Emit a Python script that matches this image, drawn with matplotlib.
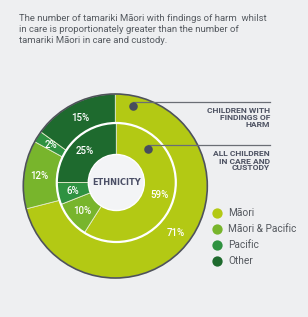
import matplotlib.pyplot as plt
from matplotlib.patches import Circle

# data
groups = ['Māori', 'Māori & Pacific', 'Pacific', 'Other']
colors = ['#b3c914', '#78b52c', '#2f9241', '#1e6a2e']
harm = [71, 12, 2, 15]          # children with findings of harm (outer ring)
in_care = [59, 10, 6, 25]       # all children in care and custody (inner ring)
title = ('The number of tamariki Māori with findings of harm  whilst\n'
         'in care is proportionately greater than the number of\n'
         'tamariki Māori in care and custody.')
ring_labels = ['CHILDREN WITH\nFINDINGS OF\nHARM',
               'ALL CHILDREN\nIN CARE AND\nCUSTODY']

W, H = 308, 317
bg = '#eeeff1'
plt.rcParams['font.family'] = ['Roboto', 'DejaVu Sans']

fig = plt.figure(figsize=(W / 100, H / 100), dpi=100, facecolor=bg)
ax = fig.add_axes([0, 0, 1, 1])
ax.set_facecolor(bg)


def py(y):
    # pixel row (from top) -> data y
    return H - y


oc = (115.3, py(186))
ic = (116.3, py(182.5))
R_out, R_in, R_hole = 92, 59.5, 28

pct = lambda p: f'{p:.0f}%'

w1, t1, a1 = ax.pie(harm, colors=colors, startangle=90, counterclock=False,
                    center=oc, radius=R_out, autopct=pct, pctdistance=0.83,
                    wedgeprops=dict(edgecolor='#e4ebc8', linewidth=0.6))
ax.add_patch(Circle(oc, R_out, fill=False, edgecolor='#4e525a', lw=1.2, zorder=3))

w2, t2, a2 = ax.pie(in_care, colors=colors, startangle=90, counterclock=False,
                    center=ic, radius=R_in, autopct=pct, pctdistance=0.75,
                    wedgeprops=dict(edgecolor='#e8eed0', linewidth=0.6))
ax.add_patch(Circle(ic, R_in, fill=False, edgecolor='white', lw=1.6, zorder=3))
ax.add_patch(Circle(ic, R_hole, facecolor='#f3f4f6', edgecolor='white', lw=1.0, zorder=3))

for t in a1 + a2:
    t.set_color('white')
    t.set_fontsize(7)
    t.set_fontweight('medium')
    t.set_zorder(4)

ax.text(ic[0], ic[1], 'ETHNICITY', ha='center', va='center', fontsize=6.6,
        fontweight='bold', fontstretch='condensed', color='#4b4f66', zorder=5,
        family=['DejaVu Sans'])

# title
ax.text(19, py(14), title, ha='left', va='top', fontsize=6.8, color='#555a60',
        linespacing=1.27)

# ring annotations
dots = [(133, 106), (148, 149)]
label_y = [117.5, 161]
for (dx, dy), lab, ly in zip(dots, ring_labels, label_y):
    ax.plot([dx, 270], [py(dy - 4.3), py(dy - 4.3)], color='#6a6e75', lw=0.9, zorder=5)
    ax.scatter([dx], [py(dy)], s=38, color='#474c5d', zorder=6, linewidths=0)
    ax.text(270, py(ly), lab, ha='right', va='center', fontsize=6.1,
            fontweight='bold', color='#4d5262', linespacing=1.0)

# legend
for i, (g, c) in enumerate(zip(groups, colors)):
    y = 213.3 + 16 * i
    ax.scatter([217], [py(y)], s=55, color=c, linewidths=0)
    ax.text(228, py(y), g, ha='left', va='center', fontsize=7.3, color='#55595f')

ax.set_xlim(0, W)
ax.set_ylim(0, H)
ax.set_aspect('equal')
ax.axis('off')

fig.savefig('out.png', dpi=100, facecolor=bg)
